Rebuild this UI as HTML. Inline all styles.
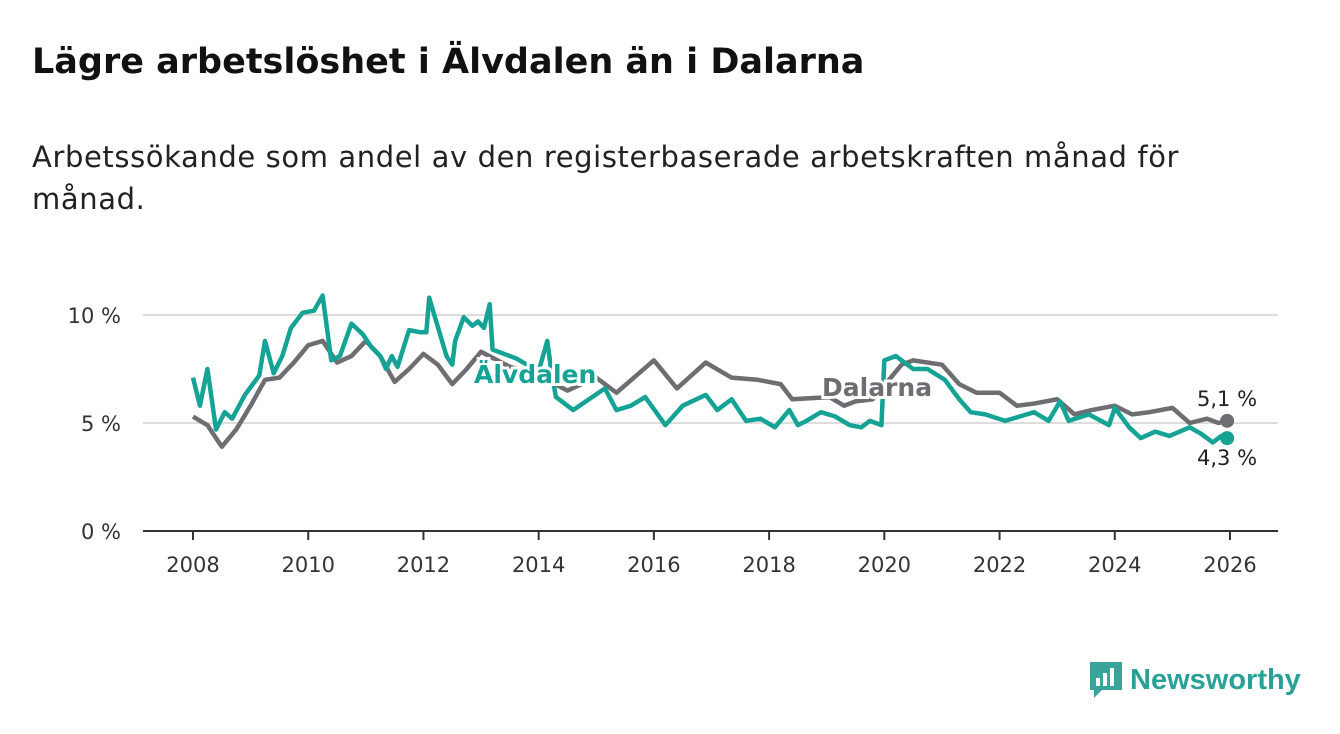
<!DOCTYPE html>
<html><head><meta charset="utf-8"><style>
body{margin:0;width:1340px;height:734px;background:#fff;font-family:"DejaVu Sans","Liberation Sans",sans-serif;overflow:hidden;position:relative}
#title{position:absolute;left:32px;top:42px;font-size:35px;font-weight:bold;color:#111}
#sub{position:absolute;left:32px;top:136px;font-size:29px;letter-spacing:0.6px;line-height:42px;color:#222;width:1200px}
svg{position:absolute;left:0;top:0}
#logo{position:absolute;left:1088px;top:660px;display:flex;align-items:center;color:#2aa198;font-size:29px;font-weight:bold;font-family:"Liberation Sans",sans-serif}
</style></head><body>
<div id="title">Lägre arbetslöshet i Älvdalen än i Dalarna</div>
<div id="sub">Arbetssökande som andel av den registerbaserade arbetskraften månad för månad.</div>
<svg id="chart" width="1340" height="734"></svg>
<div id="logo"><svg width="36" height="40" style="position:static;margin-right:6px"><path d="M2 2h32v28H14l-8 8v-8H2z" fill="#3aa39a"/><rect x="8" y="18" width="4" height="8" fill="#fff"/><rect x="15" y="13" width="4" height="13" fill="#fff"/><rect x="22" y="8" width="4" height="18" fill="#fff"/></svg>Newsworthy</div>
<script>
const yearTicks=[2008,2010,2012,2014,2016,2018,2020,2022,2024,2026];
const yTicks=[0,5,10];
const dalDates=[2008.0,2008.25,2008.5,2008.75,2009.0,2009.25,2009.5,2009.75,2010.0,2010.25,2010.5,2010.75,2011.0,2011.25,2011.5,2011.75,2012.0,2012.25,2012.5,2012.75,2013.0,2013.5,2014.0,2014.5,2014.75,2015.0,2015.35,2016.0,2016.4,2016.9,2017.35,2017.8,2018.2,2018.4,2019.05,2019.3,2019.5,2019.8,2020.3,2020.5,2021.0,2021.3,2021.6,2022.0,2022.3,2022.6,2023.0,2023.3,2023.6,2024.0,2024.3,2024.6,2025.0,2025.3,2025.6,2025.8,2025.95];
const dalVals=[5.3,4.9,3.9,4.7,5.8,7.0,7.1,7.8,8.6,8.8,7.8,8.1,8.8,8.1,6.9,7.5,8.2,7.7,6.8,7.5,8.3,7.6,7.2,6.5,6.8,7.1,6.4,7.9,6.6,7.8,7.1,7.0,6.8,6.1,6.2,5.8,6.0,6.1,7.7,7.9,7.7,6.8,6.4,6.4,5.8,5.9,6.1,5.4,5.6,5.8,5.4,5.5,5.7,5.0,5.2,5.0,5.1];
const alvDates=[2008.0,2008.12,2008.25,2008.4,2008.55,2008.68,2008.9,2009.15,2009.25,2009.4,2009.55,2009.7,2009.9,2010.1,2010.25,2010.4,2010.55,2010.75,2010.95,2011.1,2011.25,2011.35,2011.45,2011.55,2011.75,2011.95,2012.05,2012.1,2012.4,2012.5,2012.55,2012.7,2012.85,2012.95,2013.05,2013.15,2013.2,2013.6,2014.0,2014.15,2014.22,2014.3,2014.6,2015.15,2015.35,2015.6,2015.85,2016.2,2016.5,2016.9,2017.1,2017.35,2017.6,2017.85,2018.1,2018.35,2018.5,2018.65,2018.9,2019.15,2019.4,2019.6,2019.75,2019.95,2020.0,2020.2,2020.5,2020.75,2021.05,2021.3,2021.5,2021.75,2022.1,2022.35,2022.6,2022.85,2023.05,2023.2,2023.55,2023.9,2024.0,2024.25,2024.45,2024.7,2024.95,2025.3,2025.5,2025.7,2025.85,2025.95];
const alvVals=[7.1,5.8,7.5,4.7,5.5,5.2,6.3,7.2,8.8,7.3,8.1,9.4,10.1,10.2,10.9,7.9,8.1,9.6,9.1,8.5,8.1,7.5,8.1,7.6,9.3,9.2,9.2,10.8,8.1,7.7,8.8,9.9,9.5,9.7,9.4,10.5,8.4,8.0,7.4,8.8,7.4,6.2,5.6,6.6,5.6,5.8,6.2,4.9,5.8,6.3,5.6,6.1,5.1,5.2,4.8,5.6,4.9,5.1,5.5,5.3,4.9,4.8,5.1,4.9,7.9,8.1,7.5,7.5,7.0,6.1,5.5,5.4,5.1,5.3,5.5,5.1,6.0,5.1,5.4,4.9,5.7,4.8,4.3,4.6,4.4,4.8,4.5,4.1,4.4,4.3];
const svg=document.getElementById('chart');const NS='http://www.w3.org/2000/svg';
const X=t=>193+(t-2008)*(1037/18);const Y=v=>531-v*21.6;
function mk(tag,at,par){const e=document.createElementNS(NS,tag);for(const k in at)e.setAttribute(k,at[k]);(par||svg).appendChild(e);return e;}
yTicks.forEach(v=>{
 if(v>0){const g=mk('line',{x1:143,x2:1278,y1:Y(v),y2:Y(v),stroke:'#ddd','stroke-width':2});
 
 }
 const t=mk('text',{x:121,y:Y(v)+8,'text-anchor':'end','font-size':21,fill:'#333'});t.textContent=v+' %';
 
 
});
const ax=mk('line',{x1:143,x2:1278,y1:531,y2:531,stroke:'#333','stroke-width':2});


yearTicks.forEach(y=>{
 const l=mk('line',{x1:X(y),x2:X(y),y1:531,y2:540,stroke:'#333','stroke-width':2});
 
 
 const t=mk('text',{x:X(y),y:572,'text-anchor':'middle','font-size':21,fill:'#333'});t.textContent=y;
 
 
});
function line(d,v,c,name){const p=mk('polyline',{points:d.map((t,i)=>X(t)+','+Y(v[i])).join(' '),fill:'none',stroke:c,'stroke-width':4.5,'stroke-linejoin':'round'});
 
 }
line(dalDates,dalVals,'#6e6d71','dalarna-line');
line(alvDates,alvVals,'#14a394','alvdalen-line');
function lab(x,y,txt,c,name,sz,bold){const t=mk('text',{x:x,y:y,'font-size':sz,'font-weight':bold?'bold':'normal',fill:c,stroke:'#fff','stroke-width':bold?6:4,'paint-order':'stroke'});t.textContent=txt;
 
 }
lab(474,383,'Älvdalen','#14a394','alvdalen-label',25,true);
lab(822,396,'Dalarna','#6e6d71','dalarna-label',25,true);
const d1=mk('circle',{cx:X(dalDates[dalDates.length-1]),cy:Y(dalVals[dalVals.length-1]),r:7,fill:'#6e6d71'});


const d2=mk('circle',{cx:X(alvDates[alvDates.length-1]),cy:Y(alvVals[alvVals.length-1]),r:7,fill:'#14a394'});


lab(1197,406,'5,1 %','#222','dalarna-end-value',21,false);
lab(1197,465,'4,3 %','#222','alvdalen-end-value',21,false);
</script>
</body></html>
